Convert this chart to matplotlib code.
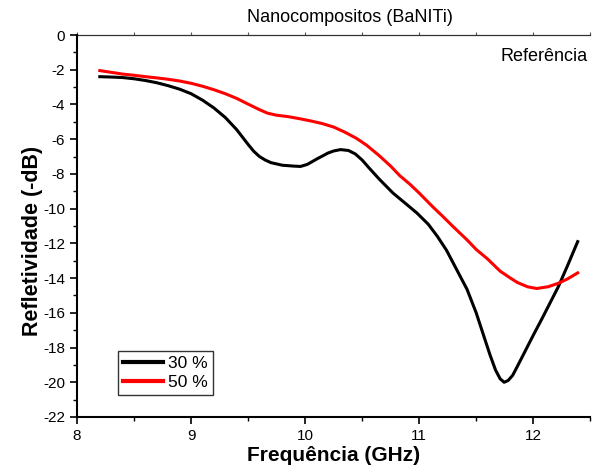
import matplotlib
matplotlib.use("Agg")
import matplotlib.pyplot as plt
from matplotlib.ticker import MultipleLocator, NullFormatter

plt.rcParams['font.family'] = ['Liberation Sans', 'DejaVu Sans']
plt.rcParams['axes.unicode_minus'] = False

freq_30 = [8.2, 8.3, 8.4, 8.5, 8.6, 8.7, 8.8, 8.9, 9.0, 9.1, 9.2, 9.3, 9.4, 9.5, 9.55, 9.6, 9.65,
           9.7, 9.8, 9.9, 9.96, 10.02, 10.1, 10.2, 10.25, 10.31, 10.38, 10.44, 10.5, 10.56,
           10.65, 10.77, 10.88, 10.98, 11.08, 11.16, 11.24, 11.32, 11.42, 11.5, 11.56, 11.62,
           11.67, 11.71, 11.745, 11.78, 11.82, 11.86, 11.93, 12.0, 12.08, 12.15, 12.22, 12.3, 12.39]
refl_30 = [-2.4, -2.42, -2.45, -2.52, -2.62, -2.75, -2.92, -3.12, -3.38, -3.75, -4.2, -4.75, -5.45,
           -6.3, -6.7, -7.0, -7.2, -7.35, -7.5, -7.55, -7.57, -7.45, -7.15, -6.8, -6.68, -6.6,
           -6.65, -6.85, -7.2, -7.65, -8.3, -9.1, -9.7, -10.25, -10.9, -11.6, -12.4, -13.4,
           -14.65, -16.0, -17.2, -18.4, -19.3, -19.8, -20.0, -19.9, -19.6, -19.1, -18.2, -17.3,
           -16.3, -15.4, -14.5, -13.3, -11.9]

freq_50 = [8.2, 8.3, 8.4, 8.5, 8.6, 8.7, 8.8, 8.9, 9.0, 9.1, 9.2, 9.3, 9.4, 9.5, 9.6, 9.67, 9.75,
           9.85, 9.96, 10.05, 10.15, 10.25, 10.35, 10.45, 10.54, 10.65, 10.75, 10.83, 10.92,
           11.0, 11.12, 11.2, 11.3, 11.42, 11.5, 11.6, 11.71, 11.8, 11.86, 11.95, 12.03, 12.13,
           12.22, 12.3, 12.39]
refl_50 = [-2.05, -2.15, -2.25, -2.32, -2.4, -2.47, -2.55, -2.65, -2.78, -2.95, -3.15, -3.38,
           -3.65, -3.98, -4.3, -4.5, -4.62, -4.7, -4.83, -4.95, -5.1, -5.3, -5.6, -5.95, -6.35,
           -6.95, -7.55, -8.1, -8.6, -9.1, -9.9, -10.4, -11.05, -11.8, -12.35, -12.9, -13.6,
           -14.0, -14.25, -14.5, -14.6, -14.5, -14.3, -14.05, -13.7]

series_labels = ['30 %', '50 %']
title = 'Nanocompositos (BaNITi)'

fig = plt.figure(figsize=(5.98, 4.70), dpi=100)
ax = fig.add_axes([0.1288, 0.1128, 0.9870 - 0.1288, 0.9255 - 0.1128])

ax.plot(freq_30, refl_30, color='black', lw=2.2, label=series_labels[0])
ax.plot(freq_50, refl_50, color='#ff0000', lw=2.2, label=series_labels[1])

ax.set_xlim(8, 12.5)
ax.set_ylim(-22, 0)
ax.xaxis.set_major_locator(MultipleLocator(1))
ax.xaxis.set_minor_locator(MultipleLocator(0.5))
ax.yaxis.set_major_locator(MultipleLocator(2))
ax.yaxis.set_minor_locator(MultipleLocator(1))

ax.spines['right'].set_visible(False)
ax.spines['top'].set_visible(False)
ax.spines['left'].set_linewidth(1.5)
ax.spines['bottom'].set_linewidth(1.5)

ax.tick_params(axis='both', which='major', direction='out', length=5, width=1.2, labelsize=11)
ax.tick_params(axis='both', which='minor', direction='out', length=3, width=1.0)

top = ax.secondary_xaxis('top')
top.spines['top'].set_linewidth(0.9)
top.spines['top'].set_color('#333333')
top.xaxis.set_major_locator(MultipleLocator(0.5))
top.xaxis.set_major_formatter(NullFormatter())
top.tick_params(axis='x', which='major', direction='out', length=2, width=0.8, colors='#555555')

ax.set_xlabel('Frequência (GHz)', fontsize=15, fontweight='bold', labelpad=2)
ax.set_ylabel('Refletividade (-dB)', fontsize=15.5, fontweight='bold')
ax.yaxis.set_label_coords(-0.066, 0.46)
fig.text(0.5845, 0.963, title, ha='center', va='center', fontsize=13)
ax.text(0.995, 0.965, 'Referência', transform=ax.transAxes, ha='right', va='top', fontsize=13)

leg = ax.legend(loc='lower left', bbox_to_anchor=(0.080, 0.0576), fontsize=12.5, frameon=True,
                fancybox=False, edgecolor='black', handlelength=2.3, handletextpad=0.3,
                borderpad=0.3, labelspacing=0.2, borderaxespad=0)
leg.get_frame().set_linewidth(1.0)
for line in leg.get_lines():
    line.set_linewidth(3)

fig.savefig('out.png', dpi=100)
